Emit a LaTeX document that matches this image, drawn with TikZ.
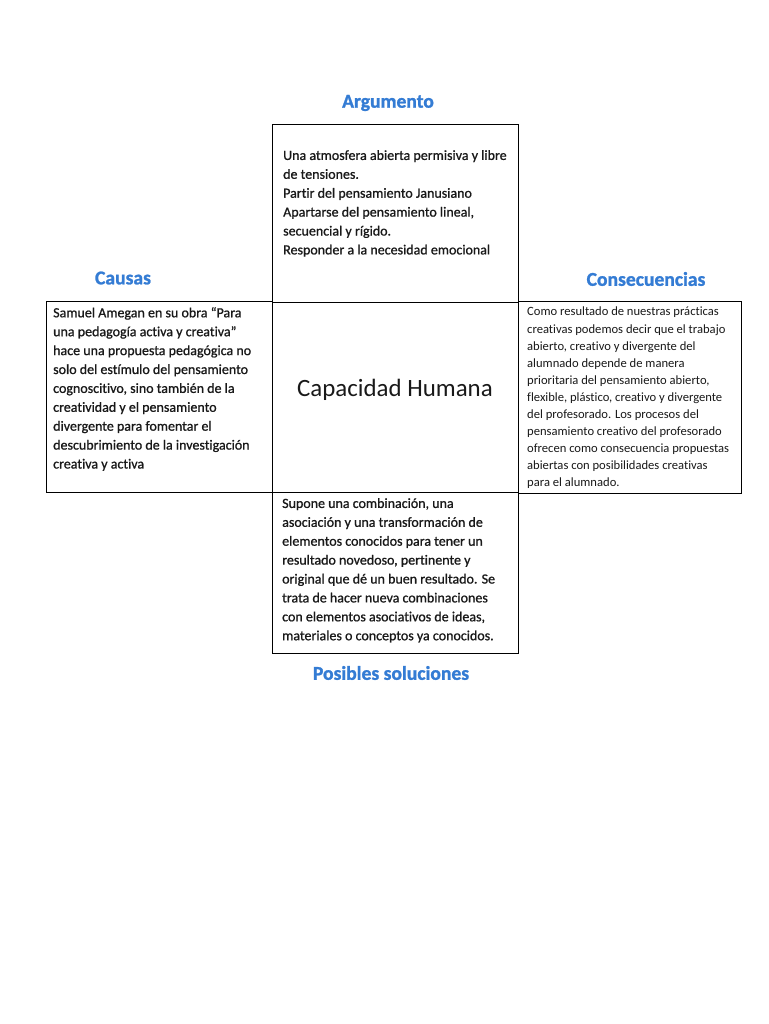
\documentclass[tikz,border=0pt]{standalone}
\usepackage{fontspec}
\setmainfont{Carlito}[RawFeature=-liga]
\newfontfamily\bodyfont[FakeBold=0.9,RawFeature=-liga]{Carlito}
\newfontfamily\headfont[FakeBold=1.2,BoldFont={* Bold}]{Carlito}
\definecolor{headblue}{RGB}{52,124,212}
\begin{document}
\begin{tikzpicture}[x=1pt,y=-1pt,
  frame/.style={draw=black,line width=0.9pt,rectangle,inner sep=0pt,anchor=north west},
  heading/.style={font=\headfont\fontsize{19.6}{22}\selectfont\bfseries,text=headblue,inner sep=0pt},
  bodytext/.style={font=\bodyfont\fontsize{14}{18.9}\selectfont,align=left,anchor=north west,inner sep=0pt,text=black!90},
  smalltext/.style={font=\fontsize{12.6}{17.1}\selectfont,align=left,anchor=north west,inner sep=0pt,text=black!90}]
\useasboundingbox (0,0) rectangle (768,1024);
\fill[white] (0,0) rectangle (768,1024);
% boxes
\node[frame,minimum width=246pt,minimum height=178pt] (topbox) at (272,124) {};
\node[frame,minimum width=226pt,minimum height=191pt] (leftbox) at (46,301) {};
\node[frame,minimum width=223pt,minimum height=192pt] (rightbox) at (518,301) {};
\node[frame,minimum width=246pt,minimum height=161pt] (botbox) at (272,492) {};
% headings
\node[heading] (h1) at (388,103) {Argumento};
\node[heading] (h2) at (123,278) {Causas};
\node[heading] (h3) at (646,279) {Consecuencias};
\node[heading] (h4) at (391,673) {Posibles soluciones};
% center
\node[font=\fontsize{24.9}{27}\selectfont,text=black!90] (center) at (395,390) {Capacidad Humana};
% texts
\node[bodytext] (ttop) at (283,150) {Una atmosfera abierta permisiva y libre\\de tensiones.\\Partir del pensamiento Janusiano\\Apartarse del pensamiento lineal,\\secuencial y rígido.\\Responder a la necesidad emocional};
\node[bodytext] (tleft) at (53,307) {Samuel Amegan en su obra “Para\\una pedagogía activa y creativa”\\hace una propuesta pedagógica no\\solo del estímulo del pensamiento\\cognoscitivo, sino también de la\\creatividad y el pensamiento\\divergente para fomentar el\\descubrimiento de la investigación\\creativa y activa};
\node[smalltext] (tright) at (527,307) {Como resultado de nuestras prácticas\\creativas podemos decir que el trabajo\\abierto, creativo y divergente del\\alumnado depende de manera\\prioritaria del pensamiento abierto,\\flexible, plástico, creativo y divergente\\del profesorado.  Los procesos del\\pensamiento creativo del profesorado\\ofrecen como consecuencia propuestas\\abiertas con posibilidades creativas\\para el alumnado.};
\node[bodytext] (tbot) at (282,498) {Supone una combinación, una\\asociación y una transformación de\\elementos conocidos para tener un\\resultado novedoso, pertinente y\\original que dé un buen resultado. Se\\trata de hacer nueva combinaciones\\con elementos asociativos de ideas,\\materiales o conceptos ya conocidos.};
\end{tikzpicture}
\end{document}
